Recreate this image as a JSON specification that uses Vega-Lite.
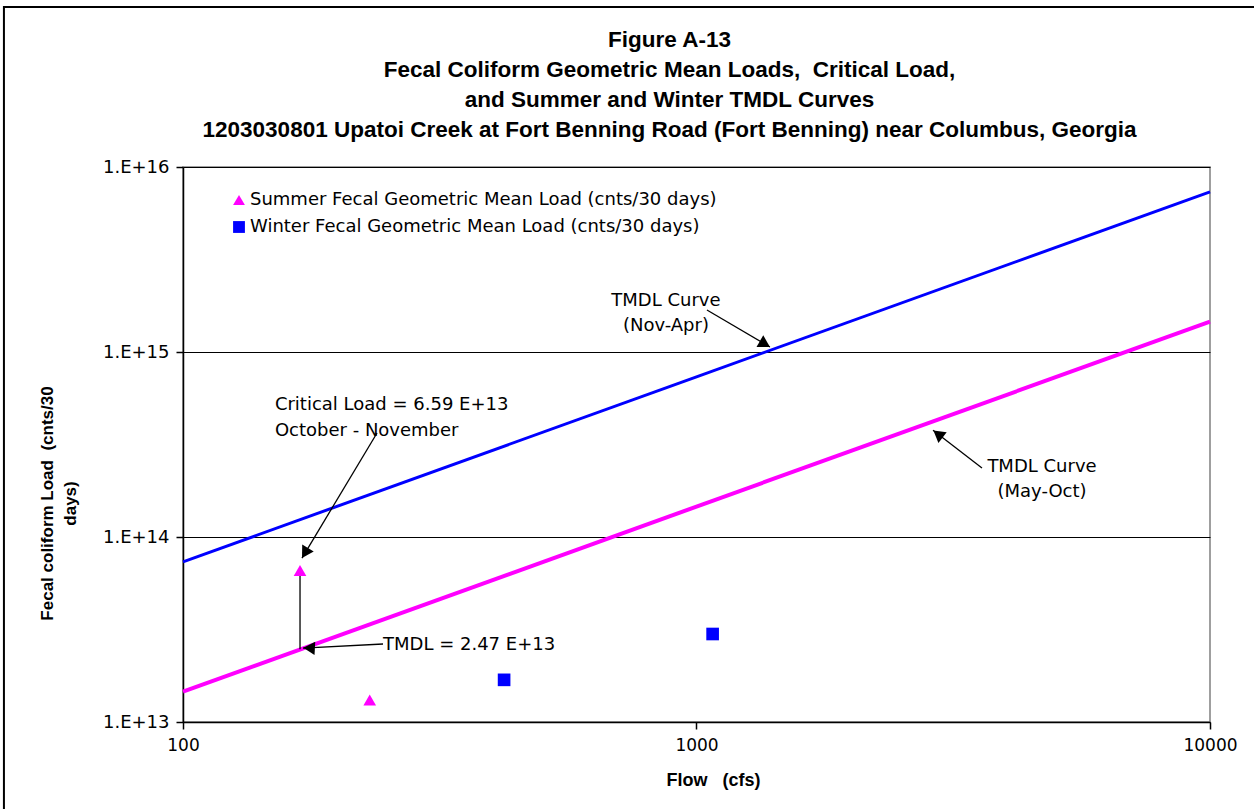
{
  "$schema": "https://vega.github.io/schema/vega-lite/v6.json",
  "width": 1027,
  "height": 555,
  "autosize": {"type": "none"},
  "padding": {"left": 183, "top": 167, "right": 44, "bottom": 87},
  "background": "white",
  "config": {
    "font": "Liberation Sans",
    "view": {"stroke": "#808080", "strokeWidth": 1.5},
    "axis": {
      "domainColor": "#000000", "domainWidth": 1.5,
      "tickColor": "#000000", "tickWidth": 1.5, "tickSize": 7,
      "labelFont": "DejaVu Sans", "labelFontSize": 17, "labelColor": "#000000", "labelFlush": false,
      "titleFont": "Liberation Sans", "titleFontSize": 17, "titleFontWeight": "bold", "titleColor": "#000000"
    },
    "title": {"font": "Liberation Sans", "fontSize": 22.5, "fontWeight": "bold", "color": "#000000", "lineHeight": 30, "anchor": "middle", "frame": "group", "dx": -27, "offset": -136}
  },
  "title": {
    "text": ["Figure A-13", "Fecal Coliform Geometric Mean Loads,\u00a0 Critical Load,", "and Summer and Winter TMDL Curves", "1203030801 Upatoi Creek at Fort Benning Road (Fort Benning) near Columbus, Georgia"]
  },
  "datasets": {
    "curves": [
      {"curve": "Winter TMDL Curve (Nov-Apr)", "flow": 100, "load": 7.34e13},
      {"curve": "Winter TMDL Curve (Nov-Apr)", "flow": 1000, "load": 7.34e14},
      {"curve": "Winter TMDL Curve (Nov-Apr)", "flow": 10000, "load": 7.34e15},
      {"curve": "Summer TMDL Curve (May-Oct)", "flow": 100, "load": 1.46e13},
      {"curve": "Summer TMDL Curve (May-Oct)", "flow": 1000, "load": 1.46e14},
      {"curve": "Summer TMDL Curve (May-Oct)", "flow": 10000, "load": 1.46e15}
    ],
    "points": [
      {"series": "Summer Fecal Geometric Mean Load (cnts/30 days)", "flow": 169, "load": 6.59e13},
      {"series": "Summer Fecal Geometric Mean Load (cnts/30 days)", "flow": 231, "load": 1.315e13},
      {"series": "Winter Fecal Geometric Mean Load (cnts/30 days)", "flow": 422, "load": 1.69e13},
      {"series": "Winter Fecal Geometric Mean Load (cnts/30 days)", "flow": 1075, "load": 2.99e13}
    ],
    "arrows": [
      {"name": "critical", "flow": 238.7, "load": 3.65e14, "flow2": 170.5, "load2": 7.69e13},
      {"name": "tmdl", "flow": 245.2, "load": 2.64e13, "flow2": 171.3, "load2": 2.51e13},
      {"name": "novapr", "flow": 1048, "load": 1.687e15, "flow2": 1390, "load2": 1.064e15},
      {"name": "mayoct", "flow": 3597, "load": 2.36e14, "flow2": 2888, "load2": 3.78e14},
      {"name": "critical-to-tmdl", "flow": 169, "load": 6.59e13, "flow2": 169, "load2": 2.47e13}
    ]
  },
  "layer": [
    {
      "data": {"values": [{"frame": "outer"}]},
      "mark": {"type": "rect", "filled": false, "stroke": "#000000", "strokeWidth": 2, "clip": false},
      "encoding": {
        "x": {"datum": 44.8, "type": "quantitative", "scale": {"type": "log", "domain": [100, 10000]}},
        "x2": {"datum": 14000},
        "y": {"datum": 7.33e16, "type": "quantitative", "scale": {"type": "log", "domain": [1e13, 1e16]}},
        "y2": {"datum": 2.95e12}
      }
    },
    {
      "data": {"name": "curves"},
      "transform": [{"filter": "datum.curve === 'Winter TMDL Curve (Nov-Apr)'"}],
      "mark": {"type": "line", "color": "#0000FF", "strokeWidth": 3},
      "encoding": {
        "x": {"field": "flow", "type": "quantitative", "scale": {"type": "log", "domain": [100, 10000]},
          "axis": {"values": [100, 1000, 10000], "format": "d", "grid": false, "labelPadding": 8,
            "title": "Flow\u00a0\u00a0\u00a0(cfs)", "titleX": 530, "titleY": 58, "titleBaseline": "middle", "titleFontSize": 18}},
        "y": {"field": "load", "type": "quantitative", "scale": {"type": "log", "domain": [1e13, 1e16]},
          "axis": {"values": [1e13, 1e14, 1e15, 1e16], "labelExpr": "'1.E+' + round(log(datum.value)/LN10)",
            "grid": true, "gridColor": "#000000", "gridWidth": 1.2, "gridOpacity": 1, "labelPadding": 7, "labelFontSize": 18,
            "title": ["Fecal coliform Load\u00a0 (cnts/30", "days)"], "titleX": -136, "titleY": 336,
            "titleAngle": -90, "titleAlign": "center", "titleBaseline": "middle", "titleLineHeight": 23}}
      }
    },
    {
      "data": {"name": "curves"},
      "transform": [{"filter": "datum.curve === 'Summer TMDL Curve (May-Oct)'"}],
      "mark": {"type": "line", "color": "#FF00FF", "strokeWidth": 4},
      "encoding": {
        "x": {"field": "flow", "type": "quantitative", "scale": {"type": "log", "domain": [100, 10000]}},
        "y": {"field": "load", "type": "quantitative", "scale": {"type": "log", "domain": [1e13, 1e16]}}
      }
    },
    {
      "data": {"name": "arrows"},
      "mark": {"type": "rule", "color": "#000000", "strokeWidth": 1.3},
      "encoding": {
        "x": {"field": "flow", "type": "quantitative", "scale": {"type": "log", "domain": [100, 10000]}},
        "y": {"field": "load", "type": "quantitative", "scale": {"type": "log", "domain": [1e13, 1e16]}},
        "x2": {"field": "flow2"},
        "y2": {"field": "load2"}
      }
    },
    {
      "data": {"name": "points"},
      "mark": {"type": "point", "filled": true, "opacity": 1, "size": 160},
      "encoding": {
        "x": {"field": "flow", "type": "quantitative", "scale": {"type": "log", "domain": [100, 10000]}},
        "y": {"field": "load", "type": "quantitative", "scale": {"type": "log", "domain": [1e13, 1e16]}},
        "color": {"field": "series", "type": "nominal",
          "scale": {"domain": ["Summer Fecal Geometric Mean Load (cnts/30 days)", "Winter Fecal Geometric Mean Load (cnts/30 days)"], "range": ["#FF00FF", "#0000FF"]},
          "legend": {"orient": "none", "legendX": 47, "legendY": 24, "title": null, "padding": 0,
            "labelFont": "DejaVu Sans", "labelFontSize": 18, "labelColor": "#000000", "labelLimit": 0, "symbolSize": 140,
            "rowPadding": 9, "labelOffset": 2, "symbolOpacity": 1, "symbolStrokeWidth": 0}},
        "shape": {"field": "series", "type": "nominal",
          "scale": {"domain": ["Summer Fecal Geometric Mean Load (cnts/30 days)", "Winter Fecal Geometric Mean Load (cnts/30 days)"], "range": ["triangle-up", "square"]}}
      }
    },
    {
      "data": {"values": [{"flow": 172.8, "load": 8.2e13}]},
      "mark": {"type": "point", "shape": "triangle-up", "filled": true, "color": "#000000", "opacity": 1, "size": 180, "angle": 211},
      "encoding": {
        "x": {"field": "flow", "type": "quantitative", "scale": {"type": "log", "domain": [100, 10000]}},
        "y": {"field": "load", "type": "quantitative", "scale": {"type": "log", "domain": [1e13, 1e16]}}
      }
    },
    {
      "data": {"values": [{"flow": 176, "load": 2.51e13}]},
      "mark": {"type": "point", "shape": "triangle-up", "filled": true, "color": "#000000", "opacity": 1, "size": 180, "angle": 273},
      "encoding": {
        "x": {"field": "flow", "type": "quantitative", "scale": {"type": "log", "domain": [100, 10000]}},
        "y": {"field": "load", "type": "quantitative", "scale": {"type": "log", "domain": [1e13, 1e16]}}
      }
    },
    {
      "data": {"values": [{"flow": 1359, "load": 1.104e15}]},
      "mark": {"type": "point", "shape": "triangle-up", "filled": true, "color": "#000000", "opacity": 1, "size": 180, "angle": 120},
      "encoding": {
        "x": {"field": "flow", "type": "quantitative", "scale": {"type": "log", "domain": [100, 10000]}},
        "y": {"field": "load", "type": "quantitative", "scale": {"type": "log", "domain": [1e13, 1e16]}}
      }
    },
    {
      "data": {"values": [{"flow": 2953, "load": 3.6e14}]},
      "mark": {"type": "point", "shape": "triangle-up", "filled": true, "color": "#000000", "opacity": 1, "size": 180, "angle": 308},
      "encoding": {
        "x": {"field": "flow", "type": "quantitative", "scale": {"type": "log", "domain": [100, 10000]}},
        "y": {"field": "load", "type": "quantitative", "scale": {"type": "log", "domain": [1e13, 1e16]}}
      }
    },
    {
      "data": {"values": [
        {"label": ["Critical Load = 6.59 E+13", "October - November"], "flow": 151, "load": 5.17e14}
      ]},
      "mark": {"type": "text", "align": "left", "baseline": "middle", "font": "DejaVu Sans", "fontSize": 18, "lineHeight": 26, "color": "#000000"},
      "encoding": {
        "x": {"field": "flow", "type": "quantitative", "scale": {"type": "log", "domain": [100, 10000]}},
        "y": {"field": "load", "type": "quantitative", "scale": {"type": "log", "domain": [1e13, 1e16]}},
        "text": {"field": "label"}
      }
    },
    {
      "data": {"values": [
        {"label": "TMDL = 2.47 E+13", "flow": 245.2, "load": 2.61e13}
      ]},
      "mark": {"type": "text", "align": "left", "baseline": "middle", "font": "DejaVu Sans", "fontSize": 18, "color": "#000000"},
      "encoding": {
        "x": {"field": "flow", "type": "quantitative", "scale": {"type": "log", "domain": [100, 10000]}},
        "y": {"field": "load", "type": "quantitative", "scale": {"type": "log", "domain": [1e13, 1e16]}},
        "text": {"field": "label"}
      }
    },
    {
      "data": {"values": [
        {"label": ["TMDL Curve", "(Nov-Apr)"], "flow": 872, "load": 1.887e15},
        {"label": ["TMDL Curve", "(May-Oct)"], "flow": 4708, "load": 2.39e14}
      ]},
      "mark": {"type": "text", "align": "center", "baseline": "middle", "font": "DejaVu Sans", "fontSize": 18, "lineHeight": 25, "color": "#000000"},
      "encoding": {
        "x": {"field": "flow", "type": "quantitative", "scale": {"type": "log", "domain": [100, 10000]}},
        "y": {"field": "load", "type": "quantitative", "scale": {"type": "log", "domain": [1e13, 1e16]}},
        "text": {"field": "label"}
      }
    }
  ]
}
